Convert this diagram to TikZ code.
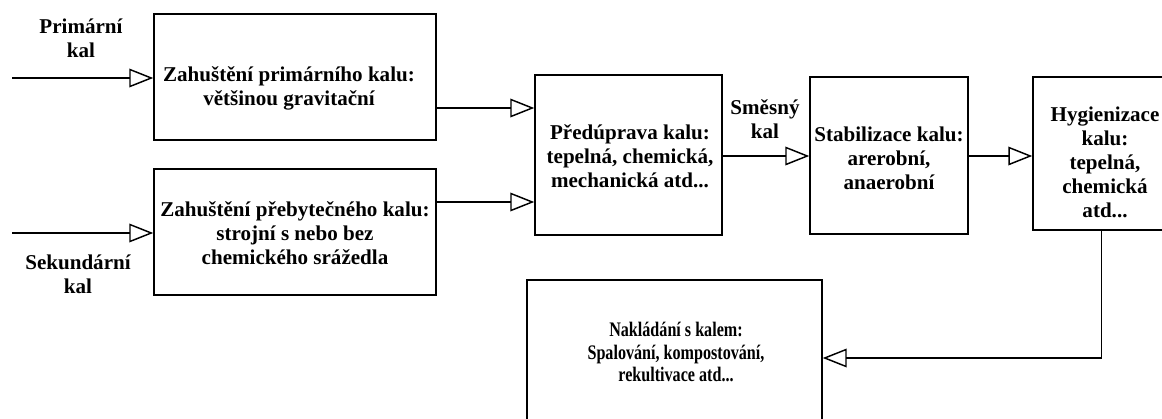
\documentclass[tikz,border=0pt]{standalone}
\usepackage{fontspec}
\setmainfont{Liberation Serif}
\newfontfamily\narrowserif{Liberation Serif}[FakeStretch=0.78]
\usetikzlibrary{arrows.meta}

\tikzset{
  box/.style={draw, line width=1.1pt, inner sep=0pt},
  txt/.style={inner sep=0.75pt, align=center, font=\fontsize{15.8}{18}\selectfont\bfseries},
  flow/.style={line width=1.1pt, -{Triangle[open, length=18pt, width=14pt, line width=1.1pt]}},
}

\begin{document}
\begin{tikzpicture}[x=0.75pt,y=0.75pt,yscale=-1]
\useasboundingbox (0,0) rectangle (1162,418);

%Shape: Rectangle
\node[box, minimum width=211.5pt, minimum height=94.5pt] (zahprim) at (295,77) {};
%Shape: Rectangle
\node[box, minimum width=211.5pt, minimum height=94.5pt] (zahsek) at (295,232) {};
%Shape: Rectangle
\node[box, minimum width=140.25pt, minimum height=120pt] (predup) at (628.5,155) {};
%Shape: Rectangle
\node[box, minimum width=118.5pt, minimum height=117.75pt] (stab) at (889,155.5) {};
%Shape: Rectangle
\node[box, minimum width=102.75pt, minimum height=114.75pt] (hyg) at (1101.5,153.5) {};
%Shape: Rectangle
\node[box, minimum width=221.25pt, minimum height=108.75pt] (nakl) at (674.5,352.5) {};

% Text Node
\node[txt] (tzahprim) at (289,88) {Zahuštění primárního kalu:\\většinou gravitační};
% Text Node
\node[txt] (tzahsek) at (295,233) {Zahuštění přebytečného kalu:\\strojní s nebo bez\\chemického srážedla};
% Text Node
\node[txt] (tpredup) at (630,156) {Předúprava kalu:\\tepelná, chemická,\\mechanická atd...};
% Text Node
\node[txt] (tstab) at (889,158) {Stabilizace kalu:\\arerobní,\\anaerobní};
% Text Node
\node[txt] (thyg) at (1105,162) {Hygienizace\\kalu:\\tepelná,\\chemická\\atd...};
% Text Node
\node[txt, font=\narrowserif\fontsize{15.5}{17}\selectfont\bfseries] (tnakl) at (676,352) {Nakládání s kalem:\\Spalování, kompostování,\\rekultivace atd...};

% Text Node
\node[txt] (lprim) at (81,38) {Primární\\kal};
% Text Node
\node[txt] (lsek) at (78,274) {Sekundární\\kal};
% Text Node
\node[txt] (lsmes) at (765,119) {Směsný\\kal};

%Straight Lines
\coordinate (inprim) at (12,78);
\coordinate (insek) at (12,233);
\draw[flow] (inprim) -- (inprim -| zahprim.west);
\draw[flow] (insek) -- (insek -| zahsek.west);
%Straight Lines
\draw[flow] (zahprim.east |- 0,108) -- (predup.west |- 0,108);
\draw[flow] (zahsek.east |- 0,202) -- (predup.west |- 0,202);
%Straight Lines
\draw[flow] (predup.east |- 0,156) -- (stab.west |- 0,156);
\draw[flow] (stab.east |- 0,156) -- (hyg.west |- 0,156);
%Straight Lines
\draw[flow] (hyg.south) -- (hyg.south |- 0,358) -- (nakl.east |- 0,358);

\end{tikzpicture}
\end{document}
